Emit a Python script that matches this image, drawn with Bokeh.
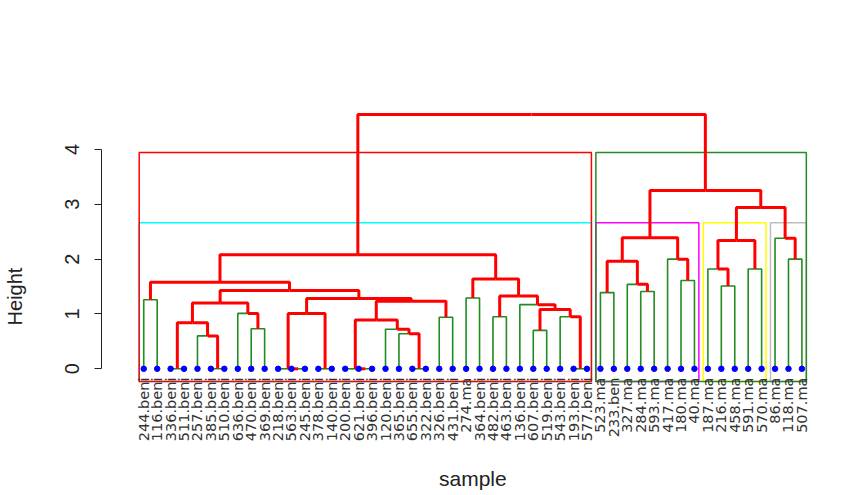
import math
from bokeh.plotting import figure
from bokeh.models import Range1d, FixedTicker, Label
from bokeh.core.properties import value
from bokeh.embed import file_html
from bokeh.resources import INLINE

# ---------------- data ----------------
leaf_labels = ["244.beni", "116.beni", "336.beni", "511.beni", "257.beni", "385.beni", "510.beni",
               "636.beni", "470.beni", "369.beni", "218.beni", "563.beni", "245.beni", "378.beni",
               "140.beni", "200.beni", "621.beni", "396.beni", "120.beni", "365.beni", "655.beni",
               "322.beni", "326.beni", "431.beni", "274.ma", "364.beni", "482.beni", "463.beni",
               "136.beni", "607.beni", "519.beni", "543.beni", "193.beni", "577.beni",
               "523.ma", "233.ben", "327.ma", "284.ma", "593.ma", "417.ma", "180.ma", "40.ma",
               "187.ma", "216.ma", "458.ma", "591.ma", "570.ma", "86.ma", "118.ma", "507.ma"]

# merges: node name, left child, right child (leaf index or node name), height
node_names = ["z1", "z2", "A", "D", "E", "F", "G", "H", "z3", "z4", "z5", "J", "z6", "z7", "z8",
              "K", "L", "M", "N", "O", "P", "Q", "R", "S", "T", "W", "z9", "X", "V", "U", "Y",
              "SY", "LEFT",
              "a", "b", "c", "d", "e", "f", "g", "hh", "i", "j", "k", "l", "m", "n", "o", "ROOT"]
node_left = [2, 5, 0, 4, "z1", 8, 7, "E", 11, 10, 13, "z4", 16, 15, 20,
             19, 18, "z7", 22, "M", "J", "H", "A", 24, 26, 29, 32, 31, "W", 28, "T",
             "S", "R",
             34, 37, 36, "a", 40, 39, "d", 43, 42, 45, "i", 48, 47, "k", "g", "LEFT"]
node_right = [3, 6, 1, "z2", "D", 9, "F", "G", 12, "z3", 14, "z5", 17, "z6", 21,
              "z8", "K", "L", 23, "N", "O", "P", "Q", 25, 27, 30, 33, "z9", "X", "V", "U",
              "Y", "SY",
              35, 38, "b", "c", 41, "e", "f", 44, "hh", 46, "j", 49, "l", "m", "n", "o"]
node_height = [0.0, 0.0, 1.26, 0.60, 0.84, 0.73, 1.01, 1.20, 0.0, 0.0, 0.0, 1.01, 0.0, 0.0, 0.0,
               0.64, 0.72, 0.89, 0.94, 1.23, 1.28, 1.43, 1.58, 1.29, 0.95, 0.70, 0.0, 0.95, 1.08,
               1.17, 1.33, 1.64, 2.08,
               1.39, 1.41, 1.54, 1.96, 1.61, 2.00, 2.39, 1.51, 1.82, 1.82, 2.34, 2.00, 2.38,
               2.94, 3.25, 4.64]

k_values = [4, 2]
rect_colors = {2: ["red", "#228B22"], 4: ["cyan", "magenta", "yellow", "#BEBEBE"]}
y_floor = -0.23
y_ticks = [0, 1, 2, 3, 4]

# ---------------- geometry via the tree ----------------
n = len(leaf_labels)
pos = {i: (i + 1, 0.0) for i in range(n)}
kids = {}
hgt = {i: 0.0 for i in range(n)}
for nm, l, r, h in zip(node_names, node_left, node_right, node_height):
    pos[nm] = ((pos[l][0] + pos[r][0]) / 2.0, h)
    kids[nm] = (l, r)
    hgt[nm] = h

green_x, green_y, red_x, red_y = [], [], [], []
for nm in node_names:
    px, ph = pos[nm]
    for c in kids[nm]:
        cx, ch = pos[c]
        xs, ys = [px, cx, cx], [ph, ph, ch]
        if isinstance(c, int):
            green_x.append(xs); green_y.append(ys)
        else:
            red_x.append(xs); red_y.append(ys)


def leaves_of(node):
    if isinstance(node, int):
        return [node]
    l, r = kids[node]
    return leaves_of(l) + leaves_of(r)


def cut(k):
    cl = ["ROOT"]
    while len(cl) < k:
        idx = max(range(len(cl)), key=lambda i: hgt[cl[i]])
        c = cl[idx]
        cl[idx:idx + 1] = list(kids[c])
    return cl


sorted_h = sorted(node_height, reverse=True)

# ---------------- figure ----------------
px_per_leaf = 13.45
px_per_h = 54.83
frame_w, frame_h = 746, 392
x0 = 1 - 42.3 / px_per_leaf
y1 = 268.3 / px_per_h
y0 = y1 - frame_h / px_per_h

p = figure(width=846, height=492, output_backend="svg", toolbar_location=None,
           x_range=Range1d(x0, x0 + frame_w / px_per_leaf), y_range=Range1d(y0, y1),
           min_border_left=100, min_border_right=0, min_border_top=100, min_border_bottom=0)
p.grid.visible = False
p.outline_line_color = None
p.xaxis.visible = False
p.background_fill_color = "white"

yax = p.yaxis[0]
yax.ticker = FixedTicker(ticks=y_ticks)
yax.bounds = (0, 4)
yax.major_tick_out = 7
yax.major_tick_in = 0
yax.minor_tick_line_color = None
yax.axis_line_color = "#222222"
yax.major_tick_line_color = "#222222"
yax.major_label_orientation = "vertical"
yax.major_label_text_font = "Liberation Sans"
yax.major_label_text_font_size = "20px"
yax.major_label_text_color = "#222222"
yax.major_label_standoff = 15
yax.axis_label = "Height"
yax.axis_label_text_font = "Liberation Sans"
yax.axis_label_text_font_size = "20px"
yax.axis_label_text_font_style = "normal"
yax.axis_label_text_color = "#222222"
yax.axis_label_standoff = 37

# cluster rectangles
for k in k_values:
    top = (sorted_h[k - 2] + sorted_h[k - 1]) / 2.0
    for ci, c in enumerate(cut(k)):
        lv = leaves_of(c)
        p.quad(left=min(lv) + 1 - 0.34, right=max(lv) + 1 + 0.33, bottom=y_floor, top=top,
               fill_color=None, line_color=rect_colors[k][ci], line_width=1.5)

# branches
p.multi_line(xs=green_x, ys=green_y, line_color="#228B22", line_width=1.6)
p.multi_line(xs=red_x, ys=red_y, line_color="red", line_width=3)

# leaf points
leaf_x = [i + 1 for i in range(n)]
p.scatter(x=leaf_x, y=[0.0] * n, size=5.5, color="blue")

# leaf labels
p.text(x=leaf_x, y=[-0.16] * n, text=leaf_labels, angle=math.pi / 2,
       text_align="right", text_baseline="middle", text_font=value("DejaVu Sans"),
       text_font_size="14.5px", text_color="#333333")

p.add_layout(Label(x=(1 + n) / 2.0, y=-2.0, text="sample", text_align="center",
                   text_baseline="middle", text_font="Liberation Sans",
                   text_font_size="21px", text_color="#222222"))

open("out.html", "w").write(file_html(p, INLINE))
